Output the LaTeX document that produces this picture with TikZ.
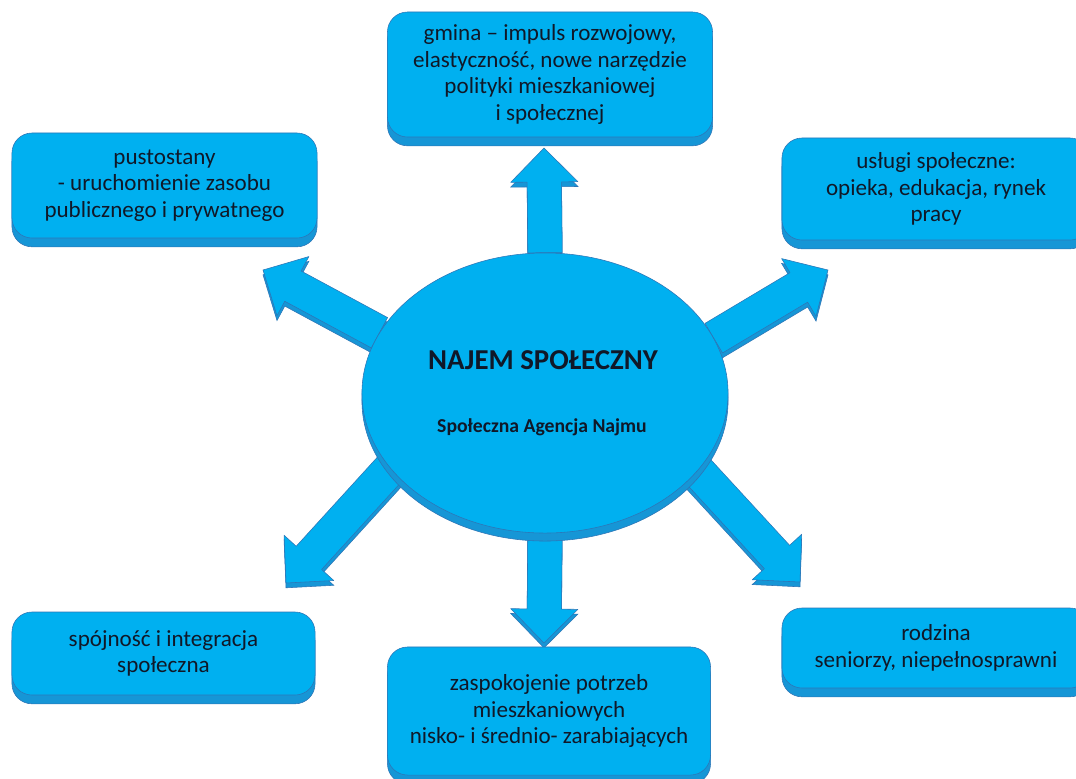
\documentclass[tikz,border=0pt]{standalone}
\usepackage{fontspec}
\setmainfont{Carlito}
\usetikzlibrary{calc,shapes.geometric,shadows,backgrounds}

\definecolor{skyfill}{RGB}{0,176,240}
\definecolor{skyedge}{RGB}{46,117,182}
\definecolor{skyside}{RGB}{22,150,214}
\definecolor{inkdark}{RGB}{16,24,40}

% block arrow from tail (#1) to tip (#2)
\newcommand{\blockarrow}[2]{%
  \coordinate (hb) at ($(#2)!0.85cm!(#1)$);
  \filldraw[arrowbody] ($(#1)!0.43cm!90:(#2)$) -- ($(hb)!0.43cm!90:(#2)$)
    -- ($(hb)!0.84cm!90:(#2)$) -- (#2) -- ($(hb)!0.84cm!-90:(#2)$)
    -- ($(hb)!0.43cm!-90:(#2)$) -- ($(#1)!0.43cm!-90:(#2)$) -- cycle;
}

\begin{document}
\begin{tikzpicture}[x=0.025cm, y=-0.025cm,
    box/.style={draw=skyedge, fill=skyfill, rounded corners=0.5cm, align=center,
      text=inkdark, font=\fontsize{16.4}{18.8}\selectfont,
      copy shadow={shadow xshift=0pt, shadow yshift=-0.22cm, fill=skyside, draw=skyedge}},
    arrowbody/.style={draw=skyedge, fill=skyfill, line join=round,
      copy shadow={shadow xshift=0pt, shadow yshift=-0.12cm, fill=skyside, draw=skyedge}}]
        \path[use as bounding box, clip] (0,0) rectangle (1076,778);

        % Boxes
        \node[box, minimum width=8.125cm, minimum height=3.125cm] (gmina) at (550,74.5)
            {gmina – impuls rozwojowy,\\elastyczność, nowe narzędzie\\polityki mieszkaniowej\\i społecznej};
        \node[box, minimum width=7.625cm, minimum height=2.625cm] (pusto) at (164.5,185.5)
            {pustostany\\- uruchomienie zasobu\\publicznego i prywatnego};
        \node[box, minimum width=7.7cm, minimum height=2.55cm] (uslugi) at (936,189)
            {usługi społeczne:\\opieka, edukacja, rynek\\pracy};
        \node[box, minimum width=7.575cm, minimum height=2.075cm] (spojnosc) at (163.5,653.5)
            {spójność i integracja\\społeczna};
        \node[box, minimum width=8.075cm, minimum height=3.2cm] (potrzeby) at (549,711)
            {zaspokojenie potrzeb\\mieszkaniowych\\nisko- i średnio- zarabiających};
        \node[box, minimum width=7.7cm, minimum height=2cm] (rodzina) at (936,648)
            {rodzina\\seniorzy, niepełnosprawni};

        % Centre
        \node[ellipse, draw=skyedge, fill=skyfill, minimum width=9.15cm, minimum height=7cm,
            copy shadow={shadow xshift=0pt, shadow yshift=-0.2cm, fill=skyside, draw=skyedge}] (ns) at (545,393) {};
        \node[text=inkdark, font=\bfseries\fontsize{20.5}{24}\selectfont] (title) at ($(ns)+(-2,-33)$) {NAJEM SPOŁECZNY};
        \node[text=inkdark, font=\bfseries\fontsize{14}{16}\selectfont] (sub) at ($(ns)+(-3,34)$) {Społeczna Agencja Najmu};

        % Arrow tips
        \coordinate (gmina_tip) at (544,148);
        \coordinate (pusto_tip) at (263,270);
        \coordinate (uslugi_tip) at (828,270);
        \coordinate (spojnosc_tip) at (286,583);
        \coordinate (potrzeby_tip) at (544,643);
        \coordinate (rodzina_tip) at (800,582);

        % Arrows
        \begin{scope}[on background layer]
            \blockarrow{ns.north}{gmina_tip}
            \blockarrow{ns.160}{pusto_tip}
            \blockarrow{ns.18}{uslugi_tip}
            \blockarrow{ns.206}{spojnosc_tip}
            \blockarrow{ns.south}{potrzeby_tip}
            \blockarrow{ns.333}{rodzina_tip}
        \end{scope}
\end{tikzpicture}
\end{document}
